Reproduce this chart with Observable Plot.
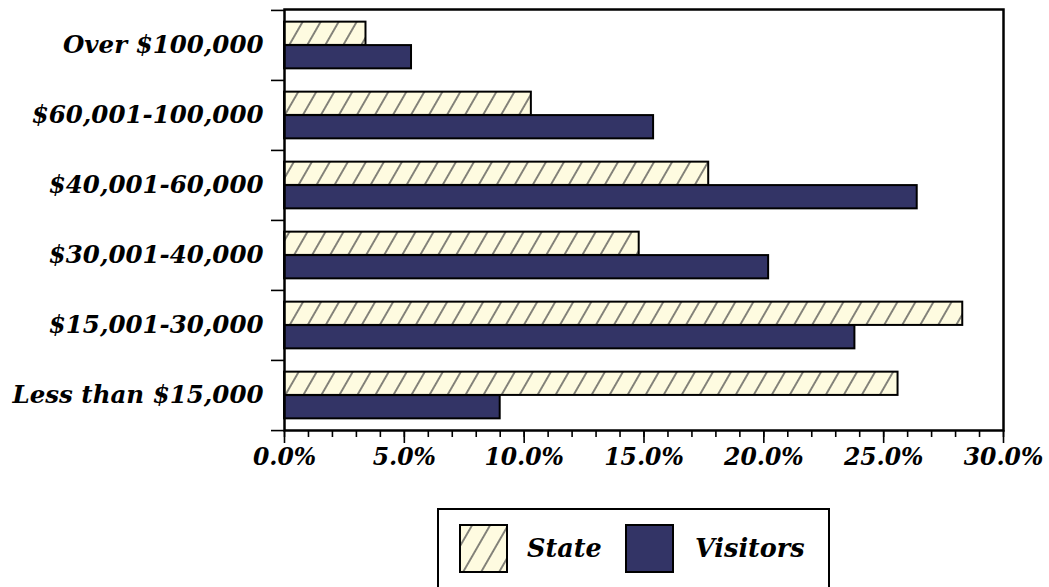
<!DOCTYPE html>
<html>
<head>
<meta charset="utf-8">
<script src="https://cdn.jsdelivr.net/npm/d3@7"></script>
<script src="https://cdn.jsdelivr.net/npm/@observablehq/plot@0.6"></script>
<style>
  html, body { margin: 0; padding: 0; background: #fff; }
  #wrap { position: relative; width: 1049px; height: 587px; overflow: hidden; background: #fff; }
  #chart { position: absolute; left: 0; top: 0; }
  #legend { position: absolute; left: 437px; top: 508px; }
  .lab { font-family: "DejaVu Serif", serif; font-weight: bold; font-style: italic; }
</style>
</head>
<body>
<div id="wrap">
  <div id="chart"></div>
  <div id="legend"></div>
</div>
<script>
// ---- data ----
const categories = ["Over $100,000", "$60,001-100,000", "$40,001-60,000", "$30,001-40,000", "$15,001-30,000", "Less than $15,000"];
const seriesNames = ["State", "Visitors"];
const stateValues = [3.4, 10.3, 17.7, 14.8, 28.3, 25.6];
const visitorValues = [5.3, 15.4, 26.4, 20.2, 23.8, 9.0];
const xTicks = [0, 5, 10, 15, 20, 25, 30];
const xMinorTicks = d3.range(0, 31, 1);

// ---- styles ----
const hatchFill = "#fefbe0";
const navy = "#333466";

const stateRows = categories.map((c, i) => ({category: c, series: seriesNames[0], value: stateValues[i]}));
const visitorRows = categories.map((c, i) => ({category: c, series: seriesNames[1], value: visitorValues[i]}));

const W = 1049, H = 500, mt = 9, mb = 70, ml = 284, mr = 46;
const bw = (H - mt - mb) / categories.length;

const plot = Plot.plot({
  width: W, height: H,
  marginTop: mt, marginBottom: mb, marginLeft: ml, marginRight: mr,
  x: {domain: [0, 30]},
  y: {domain: categories, padding: 0},
  style: {fontFamily: "DejaVu Serif", fontWeight: "bold", fontStyle: "italic", fontSize: "24px", color: "#000", background: "#fff", overflow: "visible"},
  marks: [
    Plot.barX(stateRows, {x: "value", y: "category", fill: "url(#hatch)", stroke: "#000", strokeWidth: 2,
      insetTop: bw * 0.166, insetBottom: bw * 0.5}),
    Plot.barX(visitorRows, {x: "value", y: "category", fill: navy, stroke: "#000", strokeWidth: 2,
      insetTop: bw * 0.5, insetBottom: bw * 0.166}),
    Plot.frame({stroke: "#000", strokeWidth: 2.5}),
    Plot.axisX({ticks: xMinorTicks, tickSize: 7, strokeWidth: 1.6, tickFormat: () => "", label: null}),
    Plot.axisX({ticks: xTicks, tickSize: 13, strokeWidth: 1.6, tickPadding: 5, fontSize: 23.5,
      tickFormat: d => d.toFixed(1) + "%", label: null}),
    Plot.axisY({tickSize: 0, tickPadding: 21, fontSize: 24.5, label: null}),
    Plot.axisY({tickSize: 13, strokeWidth: 1.6, dy: -bw / 2, tickFormat: () => "", label: null}),
    Plot.axisY({ticks: [categories[categories.length - 1]], tickSize: 13, strokeWidth: 1.6, dy: bw / 2, tickFormat: () => "", label: null})
  ]
});

d3.select(plot).insert("defs", ":first-child").html(`
  <pattern id="hatch" patternUnits="userSpaceOnUse" width="15.6" height="20" patternTransform="rotate(30)">
    <rect width="15.6" height="20" fill="${hatchFill}"/>
    <line x1="7.8" y1="0" x2="7.8" y2="20" stroke="#444" stroke-width="1.3"/>
  </pattern>`);
document.getElementById("chart").appendChild(plot);

// ---- legend ----
const lw = 393, lh = 120;
const leg = d3.select("#legend").append("svg").attr("width", lw).attr("height", lh);
leg.append("rect").attr("x", 1).attr("y", 1).attr("width", lw - 2).attr("height", lh - 2)
  .attr("fill", "#fff").attr("stroke", "#000").attr("stroke-width", 2);
const items = [
  {name: seriesNames[0], fill: "url(#hatch)", sx: 23, tx: 90},
  {name: seriesNames[1], fill: navy, sx: 189, tx: 258}
];
items.forEach(it => {
  leg.append("rect").attr("x", it.sx).attr("y", 17).attr("width", 47).attr("height", 47)
    .attr("fill", it.fill).attr("stroke", "#000").attr("stroke-width", 2);
  leg.append("text").attr("class", "lab").attr("x", it.tx).attr("y", 49)
    .attr("font-size", 25.5).attr("fill", "#000").text(it.name);
});
</script>
</body>
</html>
